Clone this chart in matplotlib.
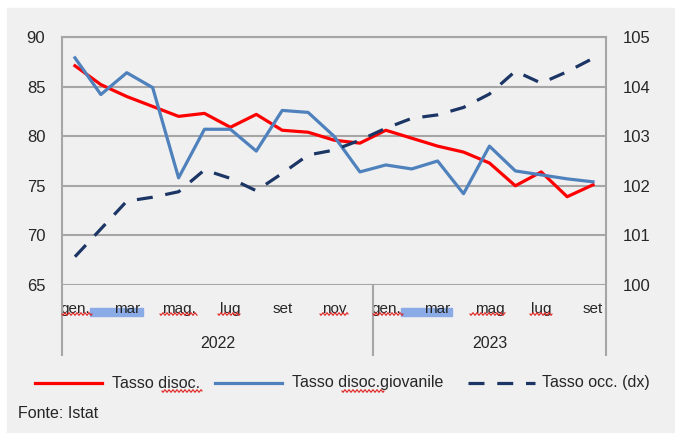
import matplotlib.pyplot as plt
import numpy as np
from matplotlib.lines import Line2D
from matplotlib.patches import Rectangle
from matplotlib.transforms import blended_transform_factory

plt.rcParams['font.family'] = ['Liberation Sans', 'DejaVu Sans']

# --- data ---
anni = ['2022', '2023']
mesi_per_anno = [12, 9]
etichette_mesi = ['gen.', 'mar', 'mag.', 'lug', 'set', 'nov',
                  'gen.', 'mar', 'mag', 'lug', 'set']

tasso_disoc = [87.1, 85.2, 84.0, 83.0, 82.0, 82.3, 80.9, 82.2, 80.6, 80.4, 79.6, 79.3,
               80.6, 79.8, 79.0, 78.4, 77.3, 75.0, 76.4, 73.9, 75.1]
tasso_giov = [87.9, 84.2, 86.4, 84.9, 75.8, 80.7, 80.7, 78.5, 82.6, 82.4, 80.0, 76.4,
              77.1, 76.7, 77.5, 74.2, 79.0, 76.5, 76.1, 75.7, 75.4]
tasso_occ = [100.57, 101.13, 101.69, 101.77, 101.88, 102.32, 102.15, 101.90, 102.25,
             102.62, 102.72, 102.92, 103.16, 103.36, 103.43, 103.58, 103.85, 104.31,
             104.07, 104.30, 104.57]

W, H = 675, 433
GRAY_BG = '#f0f0f0'
GRID = '#a6a6a6'
TXT = '#262626'


def fx(x):
    return x / W


def fy(y):
    return 1 - y / H


fig = plt.figure(figsize=(W / 100, H / 100), dpi=100, facecolor='white')
fig.patches.append(Rectangle((fx(7), 0), 1, fy(8), transform=fig.transFigure,
                             color=GRAY_BG, zorder=-10))

ax = fig.add_axes([fx(62), fy(285), fx(606) - fx(62), fy(37) - fy(285)])
ax.set_facecolor(GRAY_BG)
ax2 = ax.twinx()

n = len(tasso_disoc)
x = np.arange(n)

ax.plot(x, tasso_disoc, color='#ff0000', lw=2.3, zorder=3)
ax.plot(x, tasso_giov, color='#4f81bd', lw=2.3, zorder=3)
ax2.plot(x, tasso_occ, color='#1b3564', lw=2.3, dashes=(5, 4))

ax.set_xlim(-0.5, n - 0.5)
ax.set_ylim(65, 90)
ax.set_yticks(range(65, 91, 5))
ax.grid(axis='y', color=GRID, lw=1.5)
ax.set_axisbelow(True)
ax2.set_ylim(100, 105)
ax2.set_yticks(range(100, 106))

for a in (ax, ax2):
    for s in a.spines.values():
        s.set_visible(False)

ax.tick_params(axis='y', length=0, pad=12, labelsize=12, labelcolor=TXT)
ax2.tick_params(axis='y', length=0, pad=12, labelsize=12, labelcolor=TXT)

ax.set_xticks(x[::2])
ax.set_xticklabels(etichette_mesi)
ax.tick_params(axis='x', length=0, pad=12, labelsize=11, labelcolor=TXT)

# category axis: separators and year labels
tr = blended_transform_factory(ax.transData, ax.transAxes)
y_low = -(355 - 285) / 248
ax.add_line(Line2D([-0.5, n - 0.5], [1, 1], transform=tr, color=GRID, lw=1.5, clip_on=False))
start = 0
bordi = [-0.5]
for anno, k in zip(anni, mesi_per_anno):
    ax.text(start + (k - 1) / 2, -(343 - 285) / 248, anno, transform=tr,
            ha='center', va='center', fontsize=11.5, color=TXT)
    start += k
    bordi.append(start - 0.5)
for b in bordi:
    top = 1 if b in (-0.5, n - 0.5) else 0
    ax.add_line(Line2D([b, b], [top, y_low], transform=tr, color=GRID, lw=1.5,
                       clip_on=False, zorder=1))

# highlight marks under "mar" (as in the screenshot)
for x0, x1 in [(90, 143), (401, 452)]:
    ax.add_patch(Rectangle((fx(x0), fy(316)), fx(x1) - fx(x0), fy(308) - fy(316),
                           transform=fig.transFigure, color='#8aabe6', zorder=0.5,
                           clip_on=False))


def squiggle(x0, x1, y):
    xs = np.linspace(x0, x1, int((x1 - x0) * 3))
    ys = y + 1.2 * np.sin((xs - x0) * np.pi / 2)
    fig.add_artist(Line2D(fx(xs), fy(ys), transform=fig.transFigure,
                          color='#e02020', lw=0.8, zorder=5))


for x0, x1 in [(62, 92), (160, 197), (218, 240), (320, 348),
               (373, 403), (470, 505), (530, 552)]:
    squiggle(x0, x1, 314)

# legend
voci = [('Tasso disoc.', '#ff0000', None, 35, 77),
        ('Tasso disoc.giovanile', '#4f81bd', None, 215, 77),
        ('Tasso occ. (dx)', '#1b3564', (5, 4), 468, 74)]
for testo, col, dash, x0, dx in voci:
    kw = dict(color=col, lw=2.3, transform=fig.transFigure)
    if dash:
        kw['dashes'] = dash
    fig.add_artist(Line2D([fx(x0), fx(x0 + 67)], [fy(383), fy(383)], **kw))
    fig.text(fx(x0 + dx), fy(383), testo, ha='left', va='center', fontsize=11.5, color=TXT)
squiggle(162, 202, 391)
squiggle(342, 384, 391)

fig.text(fx(18), fy(413), 'Fonte: Istat', ha='left', va='center', fontsize=11.5, color=TXT)

fig.savefig('out.png', dpi=100, facecolor=fig.get_facecolor())
